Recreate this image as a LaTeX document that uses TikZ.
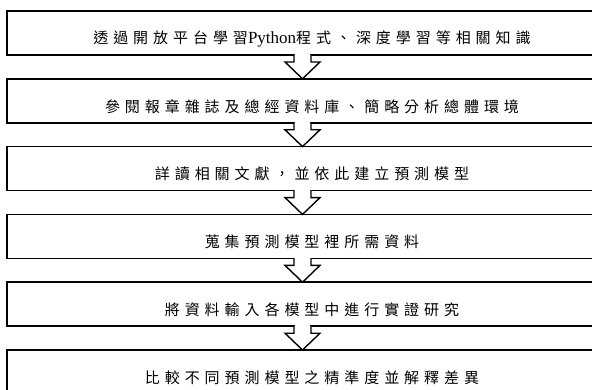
\documentclass[tikz,border=0pt]{standalone}
\usepackage{fontspec}
\setmainfont{Liberation Serif}
\newfontfamily\cjk[LetterSpace=33]{Noto Sans CJK TC}
\usetikzlibrary{calc}
\tikzset{
  stepbox/.style={draw, line width=1.6pt, fill=white, outer sep=0pt, inner sep=0pt,
    minimum width=606pt, minimum height=44pt, anchor=north west},
  arr/.style={draw, line width=1.4pt, fill=white, line join=miter},
  lbl/.style={font=\fontsize{15}{17}\selectfont, inner sep=0pt, anchor=center}
}
\newcommand\flowarr[2]{%
  \fill[white] ([xshift=287.6pt,yshift=1pt]#1.south west) rectangle ([xshift=303.4pt,yshift=-1pt]#1.south west);
  \draw[arr] ([xshift=287pt]#1.south west) -- ([xshift=287pt,yshift=-7pt]#1.south west)
    -- ([xshift=278pt,yshift=-7pt]#1.south west) -- ([xshift=295.5pt]#2.north west)
    -- ([xshift=313pt,yshift=-7pt]#1.south west) -- ([xshift=304pt,yshift=-7pt]#1.south west)
    -- ([xshift=304pt]#1.south west);}
\begin{document}
\begin{tikzpicture}[x=1pt,y=-1pt]
\useasboundingbox (0,0) rectangle (592,390);
\node[stepbox] (b1) at (7,11) {};
\node[stepbox] (b2) at (7,78.8) {};
\node[stepbox] (b3) at (7,146.6) {};
\node[stepbox] (b4) at (7,214.4) {};
\node[stepbox] (b5) at (7,282.2) {};
\node[stepbox] (b6) at (7,350) {};
\flowarr{b1}{b2}
\flowarr{b2}{b3}
\flowarr{b3}{b4}
\flowarr{b4}{b5}
\flowarr{b5}{b6}
\node[lbl] (t1) at (312,38.5) {{\cjk 透過開放平台學習}{\fontsize{17}{19}\selectfont Python}{\cjk 程式、深度學習等相關知識}};
\node[lbl] (t2) at (312,106.3) {\cjk 參閱報章雜誌及總經資料庫、簡略分析總體環境};
\node[lbl] (t3) at (312,174.1) {\cjk 詳讀相關文獻，並依此建立預測模型};
\node[lbl] (t4) at (312,241.9) {\cjk 蒐集預測模型裡所需資料};
\node[lbl] (t5) at (312,309.7) {\cjk 將資料輸入各模型中進行實證研究};
\node[lbl] (t6) at (312,377.5) {\cjk 比較不同預測模型之精準度並解釋差異};
\end{tikzpicture}
\end{document}
